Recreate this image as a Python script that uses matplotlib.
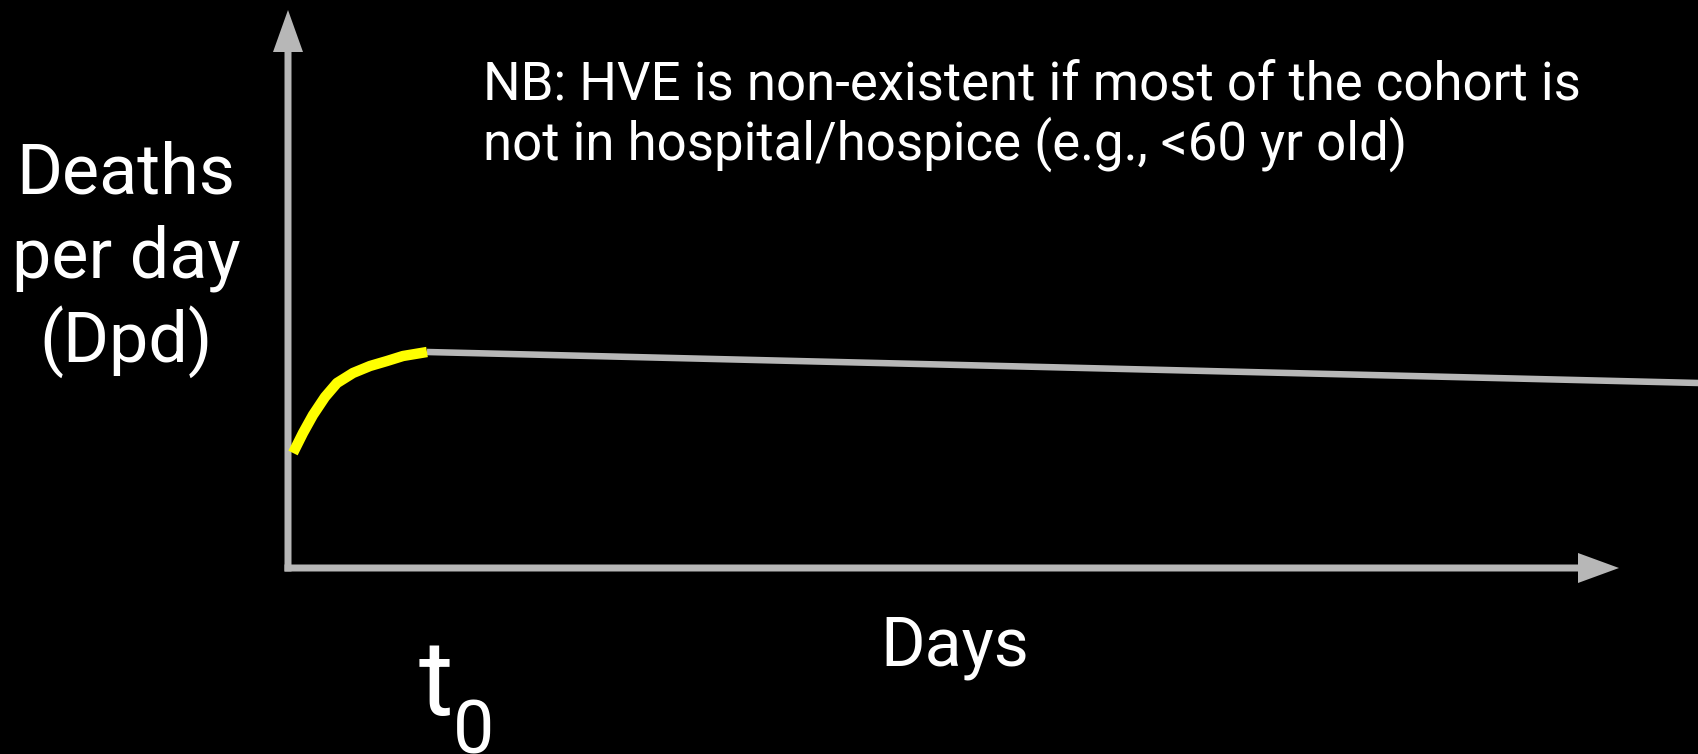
import matplotlib.pyplot as plt

plt.rcParams["font.family"] = ["Roboto", "DejaVu Sans"]

# Schematic curve (units ~ pixels from the origin of the axes)
yellow_days = [5, 15, 25, 37, 49, 65, 82, 99, 115, 139]
yellow_dpd = [115, 135, 153, 171, 185, 195, 202, 207, 212, 216]
grey_days = [139, 1411]
grey_dpd = [216, 185]

note_lines = ["NB: HVE is non-existent if most of the cohort is",
              "not in hospital/hospice (e.g., <60 yr old)"]
ylabel_lines = ["Deaths", "per day", "(Dpd)"]
xlabel = "Days"

axis_grey = "#b7b7b7"

fig = plt.figure(figsize=(16.99, 7.54), dpi=100, facecolor="black")
ax = fig.add_axes([0, 0, 1, 1])
ax.set_facecolor("black")
ax.set_xlim(-288, 1411)
ax.set_ylim(-186, 568)
ax.axis("off")

# axes with arrow heads
ax.arrow(0, -3.5, 0, 561.5, width=7, head_width=30, head_length=42,
         length_includes_head=True, color=axis_grey, lw=0)
ax.arrow(-3.5, 0, 1334.5, 0, width=7, head_width=30, head_length=41,
         length_includes_head=True, color=axis_grey, lw=0)

# curves
ax.plot(grey_days, grey_dpd, color=axis_grey, lw=4.7, solid_capstyle="butt")
ax.plot(yellow_days, yellow_dpd, color="#ffff00", lw=7.5, solid_capstyle="butt")

# note text
for i, line in enumerate(note_lines):
    ax.text(195, 469 - 61 * i, line, color="white", fontsize=38,
            ha="left", va="baseline")

# y label
for i, line in enumerate(ylabel_lines):
    ax.text(-162, 375 - 84.5 * i, line, color="white", fontsize=50.5,
            ha="center", va="baseline")

ax.text(667, -97, xlabel, color="white", fontsize=49, ha="center", va="baseline")

# t0
ax.text(131, -147, "t", color="white", fontsize=76, ha="left", va="baseline")
ax.text(165, -185, "0", color="white", fontsize=53, ha="left", va="baseline")

plt.savefig("out.png", dpi=100, facecolor="black")
plt.close()
